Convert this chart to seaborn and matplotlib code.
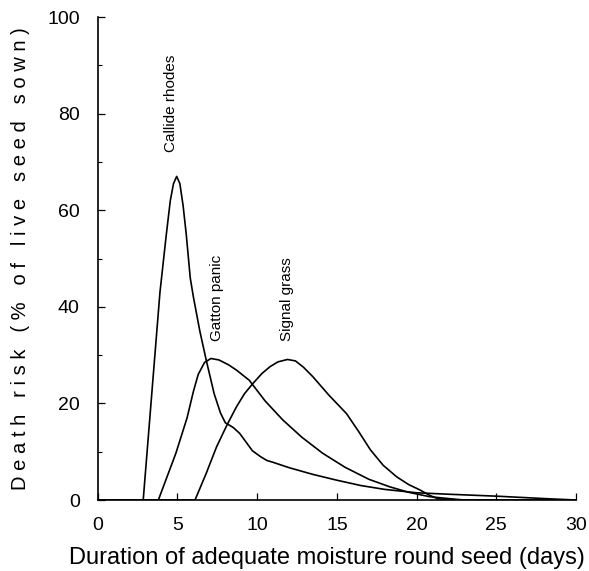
import matplotlib
matplotlib.use("Agg")
import matplotlib.pyplot as plt
import seaborn as sns
import pandas as pd

# Death risk curves (% of live seed sown) vs. duration of adequate moisture (days)
callide_x = [0, 2.85, 3.9, 4.3, 4.55, 4.75, 4.95, 5.15, 5.35, 5.55, 5.8, 6.0, 6.4, 6.8,
             7.3, 7.7, 8.0, 8.5, 8.9, 9.3, 9.7, 10.2, 10.6, 11.0, 12.0, 13.5, 15.0,
             16.5, 18.0, 20.0, 22, 25, 28, 30]
callide_y = [0, 0, 43, 55, 62, 65.5, 67, 65.5, 61, 55, 46, 42, 35, 29,
             22, 18, 16, 15, 13.8, 12, 10.2, 9, 8.2, 7.8, 6.7, 5.3, 4.1,
             3.0, 2.2, 1.5, 1.2, 0.8, 0.3, 0]

gatton_x = [0, 3.8, 4.9, 5.6, 6.0, 6.3, 6.7, 7.1, 7.6, 8.2, 8.7, 9.5, 10.5, 11.6, 12.8,
            14.1, 15.5, 17.0, 18.3, 19.5, 20.8, 22, 23, 30]
gatton_y = [0, 0, 9.7, 17, 22.5, 26, 28.5, 29.3, 29, 28, 26.9, 24.8, 20.5, 16.6, 13,
            9.7, 6.8, 4.3, 2.75, 1.6, 0.7, 0.3, 0, 0]

signal_x = [0, 6.1, 6.8, 7.45, 8.1, 8.7, 9.2, 9.75, 10.3, 10.8, 11.3, 11.9, 12.4, 12.9,
            13.5, 14.5, 15.6, 16.4, 17.1, 17.9, 18.75, 19.5, 20.2, 20.8, 21.3, 22, 30]
signal_y = [0, 0, 5.5, 11, 15.5, 19.3, 22, 24.2, 26.2, 27.6, 28.6, 29.1, 28.8, 27.5,
            25.5, 21.7, 17.9, 14, 10.4, 7.2, 4.8, 3.2, 2.1, 1.0, 0.3, 0, 0]

species = ["Callide rhodes", "Gatton panic", "Signal grass"]
label_pos = {"Callide rhodes": (4.6, 72), "Gatton panic": (7.5, 33), "Signal grass": (11.9, 33)}

x_ticks = [0, 5, 10, 15, 20, 25, 30]
y_ticks = [0, 20, 40, 60, 80, 100]
y_minor = [10, 30, 50, 70, 90]

frames = []
for name, xs, ys in zip(species, [callide_x, gatton_x, signal_x],
                        [callide_y, gatton_y, signal_y]):
    frames.append(pd.DataFrame({"days": xs, "risk": ys, "species": name}))
df = pd.concat(frames, ignore_index=True)

sns.set_style("ticks")
plt.rcParams["font.family"] = ["Liberation Sans", "DejaVu Sans"]
plt.rcParams.update({"text.color": "black", "axes.labelcolor": "black",
                     "xtick.color": "black", "ytick.color": "black"})

fig = plt.figure(figsize=(5.89, 5.71), dpi=100)
ax = fig.add_axes([0.166, 0.1243, 0.812, 0.8459])

sns.lineplot(data=df, x="days", y="risk", hue="species", units="species",
             estimator=None, sort=False, palette=["black"] * 3, linewidth=1.2,
             legend=False, ax=ax)

for name in species:
    lx, ly = label_pos[name]
    ax.text(lx, ly, name, rotation=90, ha="center", va="bottom", fontsize=11)

ax.set_xlim(0, 30)
ax.set_ylim(0, 100)
ax.set_xticks(x_ticks)
ax.set_yticks(y_ticks)
ax.set_yticks(y_minor, minor=True)
ax.tick_params(axis="both", which="major", direction="in", length=5, width=0.9,
               labelsize=14, colors="black")
ax.tick_params(axis="y", which="major", pad=13)
ax.tick_params(axis="x", which="major", pad=12.5)
ax.tick_params(axis="y", which="minor", direction="in", length=3, width=0.8)

for side in ["top", "right"]:
    ax.spines[side].set_visible(False)
for side in ["left", "bottom"]:
    ax.spines[side].set_linewidth(1.2)
    ax.spines[side].set_color("black")

# letter-spaced y label
ylab = "\u2009\u200a".join("Death risk (% of live seed sown)")
ax.set_ylabel(ylab, fontsize=14.5, labelpad=12.5)
ax.set_xlabel("Duration of adequate moisture round seed (days)", fontsize=17)
ax.xaxis.set_label_coords(0.479, -0.098, transform=ax.transAxes)
ax.xaxis.label.set_va("top")

fig.savefig("out.png", dpi=100)
